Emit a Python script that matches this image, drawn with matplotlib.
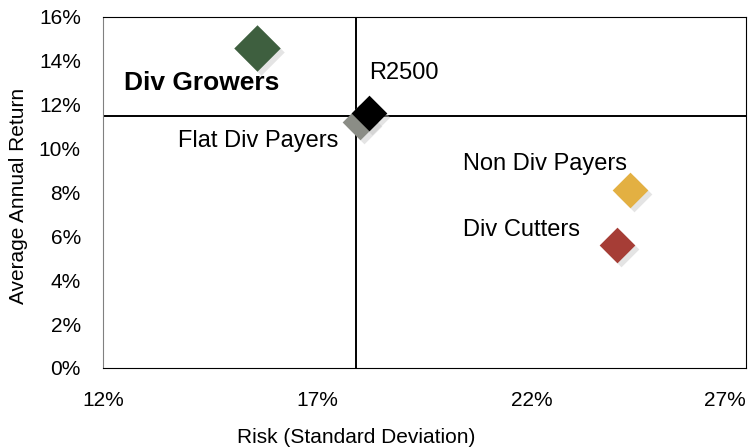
import matplotlib.pyplot as plt
from matplotlib.ticker import FuncFormatter

# data
groups = ['Div Growers', 'R2500', 'Flat Div Payers', 'Non Div Payers', 'Div Cutters']
risk = [15.6, 18.2, 18.0, 24.3, 24.0]
ret = [14.6, 11.6, 11.2, 8.1, 5.6]
colors = ['#3e5f3f', '#000000', '#8b8d86', '#e3b042', '#a63d36']
sizes = [560, 330, 330, 330, 330]
avg_risk = 17.9
avg_ret = 11.5

# label anchor (left edge, vertical centre) in data units
label_x = [12.49, 18.2, 13.75, 20.4, 20.4]
label_y = [13.0, 13.45, 10.35, 9.3, 6.3]
label_bold = [True, False, False, False, False]

plt.rcParams['font.family'] = ['Liberation Sans', 'DejaVu Sans']

fig = plt.figure(figsize=(7.49, 4.47), dpi=100)
ax = fig.add_axes([0.1375, 0.177, 0.8585, 0.785])

# soft shadows then markers, drawn back to front
order = [0, 2, 1, 3, 4]
for i in order:
    ax.scatter(risk[i] + 0.08, ret[i] - 0.18, s=sizes[i], marker='D', color='#c4c4c4',
               alpha=0.45, linewidths=0, zorder=2)
    ax.scatter(risk[i], ret[i], s=sizes[i], marker='D', color=colors[i],
               linewidths=0, zorder=3)

for i, name in enumerate(groups):
    ax.text(label_x[i], label_y[i], name, fontsize=19 if label_bold[i] else 17,
            fontweight='bold' if label_bold[i] else 'normal',
            ha='left', va='center', zorder=4)

ax.axvline(avg_risk, color='black', lw=1.4, zorder=1)
ax.axhline(avg_ret, color='black', lw=1.4, zorder=1)

ax.set_xlim(12, 27)
ax.set_ylim(0, 16)
ax.set_xticks([12, 17, 22, 27])
ax.set_yticks(range(0, 17, 2))
ax.xaxis.set_major_formatter(FuncFormatter(lambda v, p: f'{v:.0f}%'))
ax.yaxis.set_major_formatter(FuncFormatter(lambda v, p: f'{v:.0f}%'))
ax.tick_params(length=0, labelsize=15)
ax.tick_params(axis='x', pad=17)
ax.tick_params(axis='y', pad=16)
ax.get_xticklabels()[-1].set_ha('right')
ax.spines['left'].set_color('#808080')
for s in ['top', 'right', 'bottom']:
    ax.spines[s].set_color('black')

ax.set_xlabel('Risk (Standard Deviation)', fontsize=15, va='center')
ax.xaxis.set_label_coords(0.393, -0.197)
ax.set_ylabel('Average Annual Return', fontsize=15, va='center')
ax.yaxis.set_label_coords(-0.132, 0.49)

fig.savefig('out.png', dpi=100)
